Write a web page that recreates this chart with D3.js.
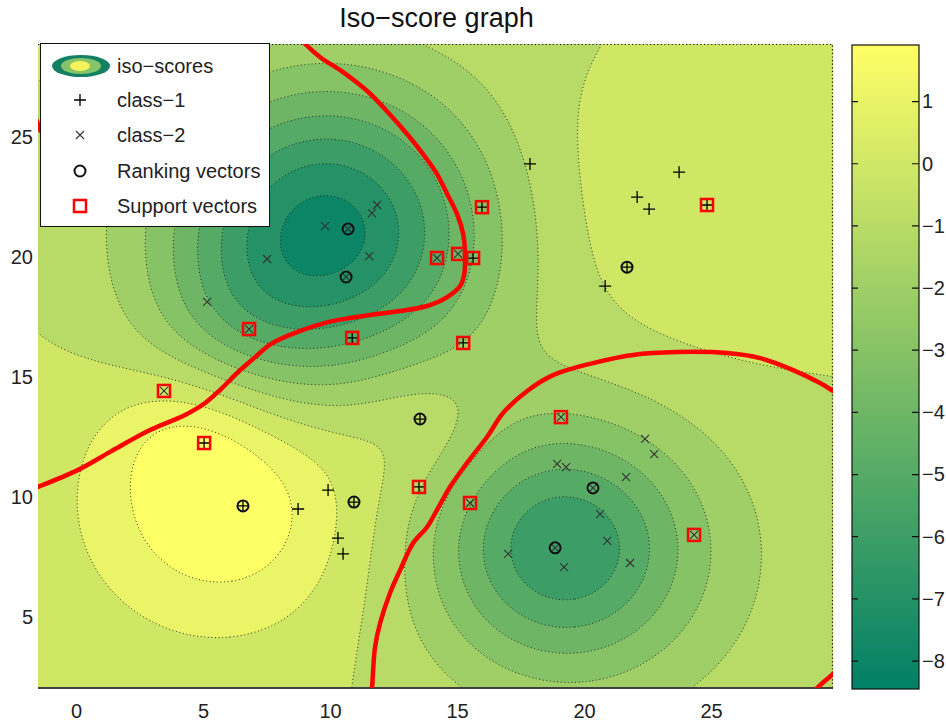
<!DOCTYPE html>
<html>
<head>
<meta charset="utf-8">
<script src="https://cdn.jsdelivr.net/npm/d3@7"></script>
<style>
  body { margin: 0; background: #fff; }
  svg { font-family: "Liberation Sans", Arial, sans-serif; }
</style>
</head>
<body>
<svg id="chart" width="946" height="721"></svg>
<script>
// ---- data ----
const xDomain = [-1.5, 29.8]
const yDomain = [2.04, 28.88]
const xTicks = [0, 5, 10, 15, 20, 25]
const yTicks = [5, 10, 15, 20, 25]
const scoreRange = [-8.45, 1.91]
const isoLevels = [-8, -7, -6, -5, -4, -3, -2, -1, 0, 1]
const colorbarTicks = [-8, -7, -6, -5, -4, -3, -2, -1, 0, 1]

// kernel terms of the iso-score surface (centre, weight, width)
const scoreBias = -0.9
const bumpX = [9.85, 6.3, 19.1, 22.0, 25.0, 5.8, 13.5, 4.5, 19.5]
const bumpY = [21.05, 16.8, 7.9, 7.0, 22.5, 9.8, 13.3, 12.8, 30.0]
const bumpW = [-7.5, -1.1, -5.2, -0.9, 0.95, 2.9, 0.95, 0.9, -0.25]
const bumpS = [4.4, 2.5, 3.54, 6.5, 4.3, 3.77, 2.2, 2.0, 3.0]

const class1 = [[17.87,23.88],[23.74,23.54],[22.09,22.5],[22.56,22.0],[24.84,22.17],[15.98,22.08],
  [15.63,19.96],[20.83,18.79],[21.69,19.58],[10.87,16.63],[15.24,16.42],[13.54,13.25],[5.04,12.25],
  [6.57,9.63],[8.74,9.5],[9.92,10.29],[10.94,9.79],[10.31,8.29],[10.51,7.63],[13.5,10.42]]
const class2 = [[9.8,21.29],[10.71,21.17],[11.85,22.17],[11.65,21.83],[11.54,20.04],[10.63,19.17],
  [7.52,19.92],[5.16,18.13],[6.81,17.0],[3.46,14.42],[14.21,19.96],[15.04,20.13],[15.51,9.75],
  [19.09,13.33],[18.94,11.38],[19.29,11.25],[21.65,10.83],[22.4,12.42],[22.76,11.79],[20.35,10.38],
  [20.63,9.29],[20.91,8.17],[18.86,7.88],[17.01,7.63],[19.21,7.08],[21.81,7.25],[24.33,8.42]]
const rankingVectors = [[10.71,21.17],[10.63,19.17],[21.69,19.58],[13.54,13.25],[6.57,9.63],
  [10.94,9.79],[20.35,10.38],[18.86,7.88]]
const supportVectors = [[24.84,22.17],[15.98,22.08],[15.63,19.96],[14.21,19.96],[15.04,20.13],
  [10.87,16.63],[15.24,16.42],[6.81,17.0],[3.46,14.42],[5.04,12.25],[13.5,10.42],[15.51,9.75],
  [19.09,13.33],[24.33,8.42]]

// decision boundary (red)
const boundaryUpper = [[8.75,29.2],[9.02,28.88],[9.61,28.33],[10.51,27.71],[11.46,26.92],[12.24,26.08],
  [13.03,25.13],[13.66,24.29],[14.21,23.46],[14.61,22.63],[15.0,21.79],[15.24,20.96],[15.31,20.25],
  [15.28,19.29],[15.12,18.79],[14.61,18.33],[13.82,17.96],[12.76,17.75],[11.85,17.63],[10.79,17.46],
  [9.92,17.29],[8.82,16.92],[7.68,16.38],[7.05,15.83],[6.38,15.21],[5.67,14.46],[5.08,13.92],
  [4.29,13.42],[2.91,12.79],[1.34,11.88],[0.08,11.13],[-1.5,10.42],[-1.8,10.3]]
const boundaryLower = [[11.62,1.8],[11.65,2.04],[11.77,3.75],[11.97,4.75],[12.36,6.0],[12.76,6.96],
  [13.27,8.08],[13.82,8.75],[14.21,9.46],[14.72,10.42],[15.39,11.42],[16.18,12.5],[16.81,13.5],
  [17.76,14.42],[18.78,15.08],[20.35,15.58],[21.93,15.92],[23.66,16.04],[25.63,16.0],[26.93,15.79],
  [28.23,15.29],[29.29,14.75],[29.8,14.42],[30.1,14.2]]
const boundaryCorner = [[29.0,1.85],[29.17,2.04],[29.8,2.63],[30.1,2.95]]
const boundaryEdge = [[-1.7,26.1],[-1.38,25.2]]

const legendLabels = ['iso\u2212scores', 'class\u22121', 'class\u22122', 'Ranking vectors', 'Support vectors']

// ---- drawing ----
const svg = d3.select('#chart')
const plot = {left: 38, top: 44, right: 833, bottom: 688}

const x = d3.scaleLinear().domain(xDomain).range([plot.left, plot.right])
const y = d3.scaleLinear().domain(yDomain).range([plot.bottom, plot.top])
const cbar = {left: 852, right: 919, top: 45, bottom: 689}
const c = d3.scaleLinear().domain(scoreRange).range([cbar.bottom, cbar.top])

// matlab "summer" colormap
const summer = t => d3.rgb(255 * t, 255 * (0.5 + 0.5 * t), 102).formatHex()
const colorOf = v => summer((v - scoreRange[0]) / (scoreRange[1] - scoreRange[0]))

const score = (px, py) => {
    let s = scoreBias
    for (let k = 0; k < bumpX.length; k++) {
        const dx = px - bumpX[k], dy = py - bumpY[k]
        s += bumpW[k] * Math.exp(-(dx * dx + dy * dy) / (2 * bumpS[k] * bumpS[k]))
    }
    return s
}

const nx = 398, ny = 322
const stepX = (xDomain[1] - xDomain[0]) / nx
const stepY = (yDomain[1] - yDomain[0]) / ny
const grid = []
for (let j = 0; j < ny; j++) {
    for (let i = 0; i < nx; i++) {
        grid.push(score(xDomain[0] + (i + 0.5) * stepX, yDomain[1] - (j + 0.5) * stepY))
    }
}
const bands = d3.contours().size([nx, ny]).thresholds(isoLevels)(grid)

const gridToPx = d3.geoTransform({
    point(gx, gy) { this.stream.point(x(xDomain[0] + gx * stepX), y(yDomain[1] - gy * stepY)) }
})
const path = d3.geoPath(gridToPx)

const defs = svg.append('defs')
defs.append('clipPath').attr('id', 'plotClip')
    .append('rect').attr('x', plot.left).attr('y', plot.top)
    .attr('width', plot.right - plot.left).attr('height', plot.bottom - plot.top)
defs.append('clipPath').attr('id', 'innerClip')
    .append('rect').attr('x', plot.left + 1.5).attr('y', plot.top + 1.5)
    .attr('width', plot.right - plot.left - 3).attr('height', plot.bottom - plot.top - 3)

const fills = svg.append('g').attr('clip-path', 'url(#plotClip)')
fills.append('rect')
    .attr('x', plot.left).attr('y', plot.top)
    .attr('width', plot.right - plot.left).attr('height', plot.bottom - plot.top)
    .attr('fill', colorOf(isoLevels[0]))
fills.selectAll('path')
    .data(bands)
    .enter()
    .append('path')
    .attr('d', path)
    .attr('fill', (d, i) => colorOf(i + 1 < isoLevels.length ? isoLevels[i + 1] : scoreRange[1]))

svg.append('g').attr('clip-path', 'url(#innerClip)')
    .selectAll('path')
    .data(bands)
    .enter()
    .append('path')
    .attr('d', path)
    .attr('fill', 'none')
    .attr('stroke', '#1c1c1c')
    .attr('stroke-width', 0.9)
    .attr('stroke-dasharray', '1 2.6')

// dotted frame on top and right, solid axis at the bottom
svg.append('path')
    .attr('d', `M${plot.left},${plot.top + 0.5}H${plot.right - 0.5}V${plot.bottom}`)
    .attr('fill', 'none').attr('stroke', '#111').attr('stroke-width', 1.2)
    .attr('stroke-dasharray', '1.2 2.4')
svg.append('line')
    .attr('x1', plot.left).attr('x2', plot.right)
    .attr('y1', plot.bottom).attr('y2', plot.bottom)
    .attr('stroke', '#404040').attr('stroke-width', 2)

// decision boundary
const line = d3.line().x(d => x(d[0])).y(d => y(d[1])).curve(d3.curveCatmullRom)
svg.append('g').attr('clip-path', 'url(#plotClip)')
    .selectAll('path')
    .data([boundaryUpper, boundaryLower, boundaryCorner, boundaryEdge])
    .enter()
    .append('path')
    .attr('d', line)
    .attr('fill', 'none')
    .attr('stroke', '#ff0000')
    .attr('stroke-width', 4.5)
    .attr('stroke-linejoin', 'round')

// markers
const plusPath = 'M-6,0H6M0,-6V6'
const crossPath = 'M-4,-4L4,4M-4,4L4,-4'
const marks = svg.append('g')
marks.selectAll('.plus')
    .data(class1)
    .enter()
    .append('path')
    .attr('class', 'plus')
    .attr('transform', d => `translate(${x(d[0])},${y(d[1])})`)
    .attr('d', plusPath)
    .attr('stroke', '#000').attr('stroke-width', 1.3)
marks.selectAll('.cross')
    .data(class2)
    .enter()
    .append('path')
    .attr('class', 'cross')
    .attr('transform', d => `translate(${x(d[0])},${y(d[1])})`)
    .attr('d', crossPath)
    .attr('stroke', '#333').attr('stroke-width', 1.1)
marks.selectAll('.rank')
    .data(rankingVectors)
    .enter()
    .append('circle')
    .attr('class', 'rank')
    .attr('cx', d => x(d[0])).attr('cy', d => y(d[1]))
    .attr('r', 5.5)
    .attr('fill', 'none').attr('stroke', '#111').attr('stroke-width', 2)
marks.selectAll('.support')
    .data(supportVectors)
    .enter()
    .append('rect')
    .attr('class', 'support')
    .attr('x', d => x(d[0]) - 6).attr('y', d => y(d[1]) - 6)
    .attr('width', 12).attr('height', 12)
    .attr('fill', 'none').attr('stroke', '#ff0000').attr('stroke-width', 2.5)

// axes
const xAxis = svg.append('g')
    .attr('transform', `translate(0,${plot.bottom})`)
    .call(d3.axisBottom(x).tickValues(xTicks).tickSize(0).tickPadding(16))
const yAxis = svg.append('g')
    .attr('transform', `translate(${plot.left},0)`)
    .call(d3.axisLeft(y).tickValues(yTicks).tickSize(0).tickPadding(5))
;[xAxis, yAxis].forEach(g => {
    g.select('.domain').remove()
    g.selectAll('text').attr('font-size', 20).attr('fill', '#222')
        .attr('font-family', '"Liberation Sans", Arial, sans-serif')
})

// title
svg.append('text')
    .attr('x', (plot.left + plot.right) / 2 + 1).attr('y', 27)
    .attr('text-anchor', 'middle')
    .attr('font-size', 27).attr('fill', '#111')
    .text('Iso\u2212score graph')

// colorbar
const grad = defs.append('linearGradient').attr('id', 'summerGrad')
    .attr('x1', 0).attr('y1', 1).attr('x2', 0).attr('y2', 0)
d3.range(0, 1.0001, 0.1).forEach(t => {
    grad.append('stop').attr('offset', t).attr('stop-color', summer(t))
})
svg.append('rect')
    .attr('x', cbar.left).attr('y', cbar.top)
    .attr('width', cbar.right - cbar.left).attr('height', cbar.bottom - cbar.top)
    .attr('fill', 'url(#summerGrad)')
    .attr('stroke', '#111').attr('stroke-width', 1.2)
const cbTicks = svg.append('g')
cbTicks.selectAll('.tl')
    .data(colorbarTicks)
    .enter()
    .append('path')
    .attr('d', d => `M${cbar.left},${c(d)}h6M${cbar.right},${c(d)}h-7`)
    .attr('stroke', '#111').attr('stroke-width', 1.2)
const cAxis = svg.append('g')
    .attr('transform', `translate(${cbar.right},0)`)
    .call(d3.axisRight(c).tickValues(colorbarTicks).tickSize(0).tickPadding(3))
cAxis.select('.domain').remove()
cAxis.selectAll('text').attr('font-size', 20).attr('fill', '#222')
    .attr('font-family', '"Liberation Sans", Arial, sans-serif')

// legend
const legend = svg.append('g')
legend.append('rect')
    .attr('x', 40.5).attr('y', 43.5).attr('width', 229).attr('height', 183)
    .attr('fill', '#fff').attr('stroke', '#111').attr('stroke-width', 1)
const rowY = [66, 100, 135, 171, 206]
legend.selectAll('text')
    .data(legendLabels)
    .enter()
    .append('text')
    .attr('x', 117).attr('y', (d, i) => rowY[i] + 7)
    .attr('font-size', 20).attr('fill', '#222')
    .text(d => d)
legend.append('ellipse').attr('cx', 81).attr('cy', rowY[0]).attr('rx', 29).attr('ry', 11)
    .attr('fill', '#137f63')
legend.append('ellipse').attr('cx', 81).attr('cy', rowY[0]).attr('rx', 20).attr('ry', 8)
    .attr('fill', '#86c46a')
legend.append('ellipse').attr('cx', 80).attr('cy', rowY[0]).attr('rx', 10).attr('ry', 5)
    .attr('fill', '#f4f45a')
legend.append('path').attr('transform', `translate(80,${rowY[1]})`).attr('d', plusPath)
    .attr('stroke', '#000').attr('stroke-width', 1.3)
legend.append('path').attr('transform', `translate(80,${rowY[2]})`).attr('d', crossPath)
    .attr('stroke', '#333').attr('stroke-width', 1.1)
legend.append('circle').attr('cx', 80).attr('cy', rowY[3]).attr('r', 5.5)
    .attr('fill', 'none').attr('stroke', '#111').attr('stroke-width', 2)
legend.append('rect').attr('x', 74).attr('y', rowY[4] - 6).attr('width', 12).attr('height', 12)
    .attr('fill', 'none').attr('stroke', '#ff0000').attr('stroke-width', 2.5)
</script>
</body>
</html>
